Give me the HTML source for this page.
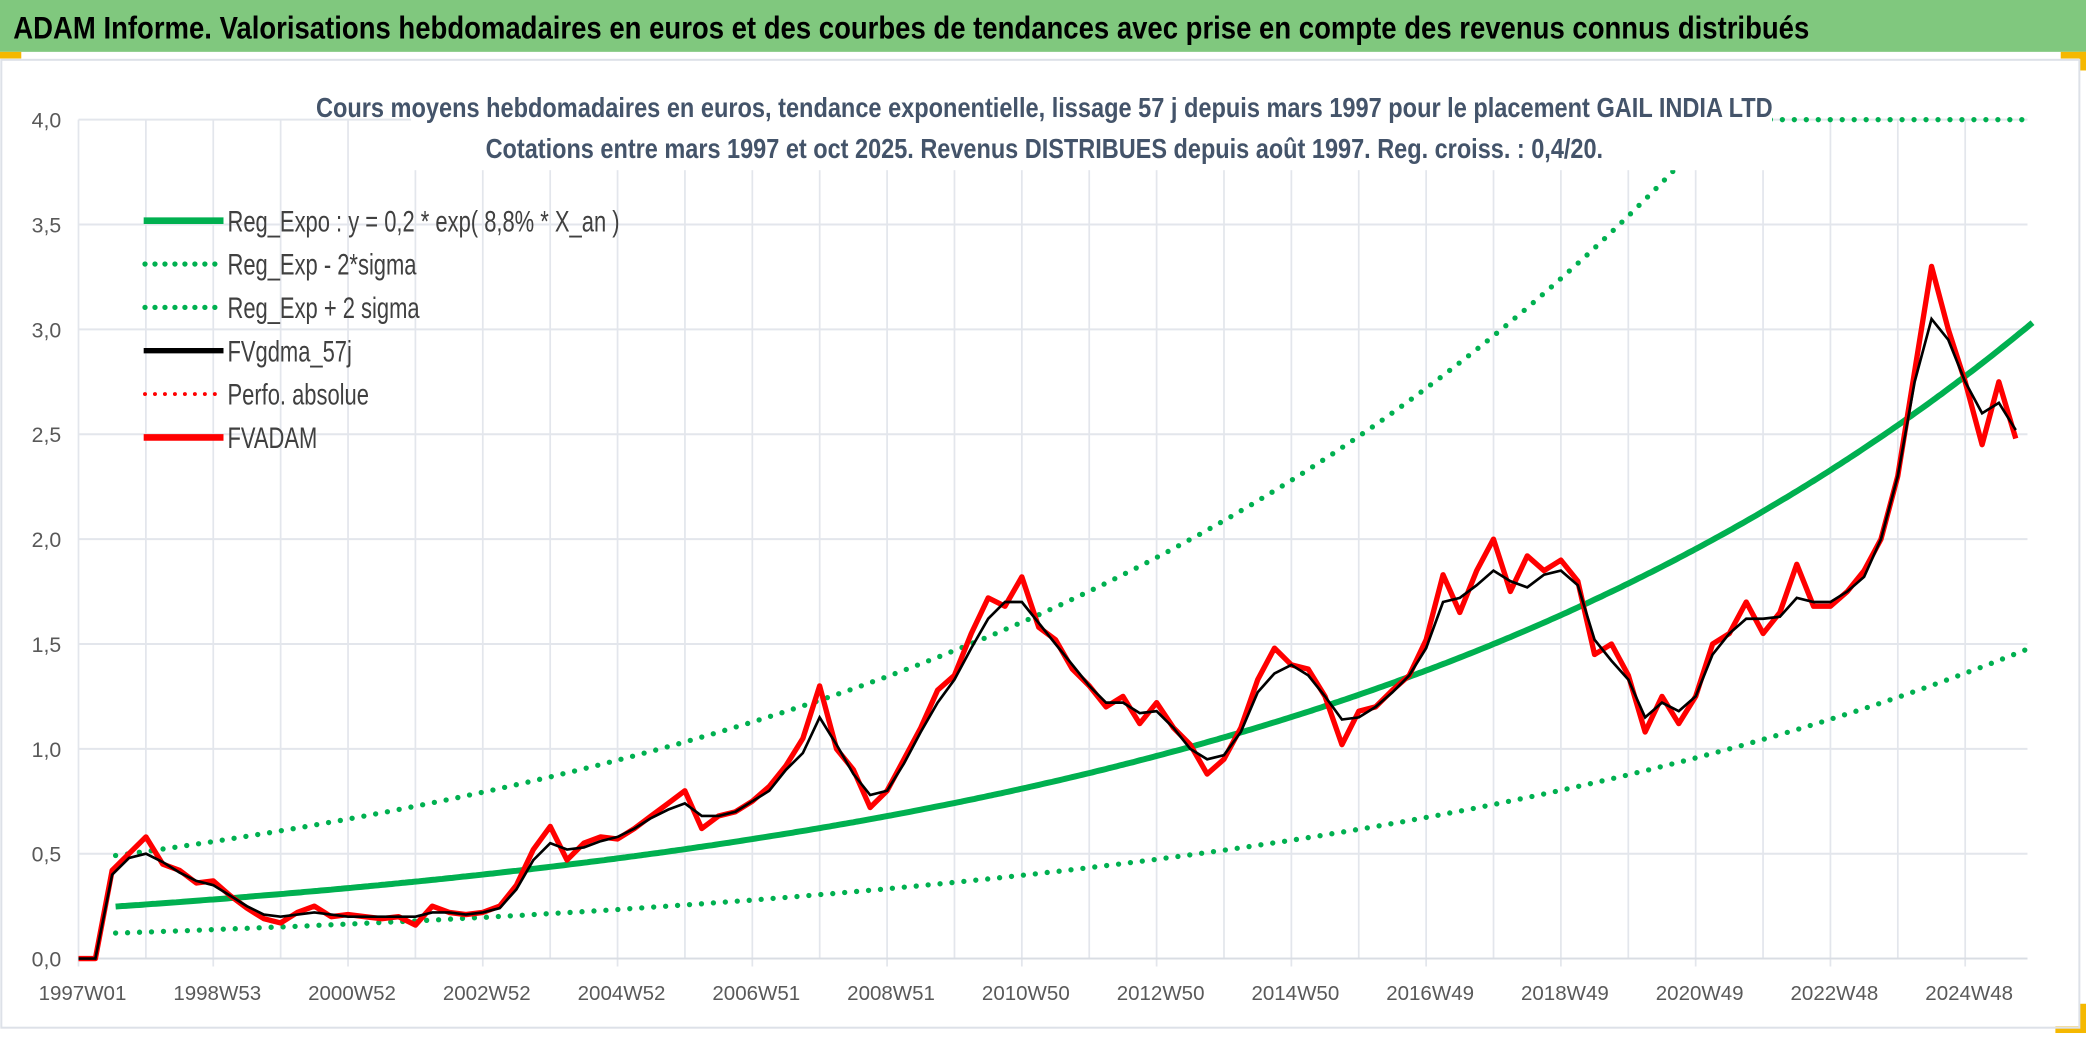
<!DOCTYPE html>
<html><head><meta charset="utf-8"><style>
html,body{margin:0;padding:0;background:#fff;}
svg{display:block;}
text{font-family:"Liberation Sans",sans-serif;}
</style></head><body>
<svg id="chart" width="2086" height="1037" viewBox="0 0 1568 780" preserveAspectRatio="none" xmlns="http://www.w3.org/2000/svg">
<rect x="0" y="0" width="1568" height="780" fill="#fff"/>
<rect x="0" y="0" width="1568" height="39" fill="#80c87e"/>
<text x="10" y="29" font-size="24" font-weight="bold" fill="#000" textLength="1350" lengthAdjust="spacingAndGlyphs">ADAM Informe. Valorisations hebdomadaires en euros et des courbes de tendances avec prise en compte des revenus connus distribués</text>
<rect x="0" y="39" width="16" height="5" fill="#f5b800"/>
<rect x="1549" y="39" width="19" height="5" fill="#f5b800"/>
<rect x="1563" y="39" width="5" height="14" fill="#f5b800"/>
<rect x="1563" y="755" width="5" height="22" fill="#f5b800"/>
<rect x="1545" y="772" width="23" height="5" fill="#f5b800"/>
<rect x="1" y="45" width="1562" height="728" fill="none" stroke="#dde1e8" stroke-width="1.5"/>
<g id="grid"></g>
<g id="series"></g>
<rect x="309" y="60" width="1023" height="68" fill="#fff"/>
<text x="785" y="88" font-size="21" font-weight="bold" fill="#44546a" text-anchor="middle" textLength="1095" lengthAdjust="spacingAndGlyphs">Cours moyens hebdomadaires en euros, tendance exponentielle, lissage 57 j depuis mars 1997 pour le placement GAIL INDIA LTD</text>
<text x="785" y="119" font-size="21" font-weight="bold" fill="#44546a" text-anchor="middle" textLength="840" lengthAdjust="spacingAndGlyphs">Cotations entre mars 1997 et oct 2025. Revenus DISTRIBUES depuis août 1997. Reg. croiss. : 0,4/20.</text>
<g id="legend"></g>
</svg>
<script>
const NS='http://www.w3.org/2000/svg';
// ---- data ----
const yTicks=[0,0.5,1,1.5,2,2.5,3,3.5,4];
const yTickLabels=['0,0','0,5','1,0','1,5','2,0','2,5','3,0','3,5','4,0'];
const xTickLabels=['1997W01','1998W53','2000W52','2002W52','2004W52','2006W51','2008W51','2010W50','2012W50','2014W50','2016W49','2018W49','2020W49','2022W48','2024W48'];
const startYear=1997;
const stepYears=0.25;
const fvadam=[0,0,0.42,0.5, 0.58,0.45,0.42,0.36, 0.37,0.3,0.24,0.19, 0.17,0.22,0.25,0.2, 0.21,0.2,0.19,0.2,
 0.16,0.25,0.22,0.21, 0.22,0.25,0.35,0.52, 0.63,0.47,0.55,0.58, 0.57,0.62,0.68,0.74, 0.8,0.62,0.68,0.7,
 0.75,0.82,0.92,1.05, 1.3,1.0,0.9,0.72, 0.8,0.95,1.1,1.28, 1.35,1.55,1.72,1.68, 1.82,1.58,1.52,1.38,
 1.3,1.2,1.25,1.12, 1.22,1.1,1.02,0.88, 0.95,1.1,1.33,1.48, 1.4,1.38,1.25,1.02, 1.18,1.2,1.28,1.35,
 1.52,1.83,1.65,1.85, 2.0,1.75,1.92,1.85, 1.9,1.8,1.45,1.5, 1.35,1.08,1.25,1.12, 1.25,1.5,1.55,1.7,
 1.55,1.65,1.88,1.68, 1.68,1.75,1.85,2.0, 2.3,2.8,3.3,3.0, 2.75,2.45,2.75,2.48];
const fvgdma=[0,0,0.4,0.48, 0.5,0.46,0.41,0.37, 0.35,0.3,0.25,0.21, 0.2,0.21,0.22,0.21, 0.2,0.2,0.2,0.2,
 0.2,0.22,0.22,0.21, 0.22,0.24,0.33,0.47, 0.55,0.52,0.53,0.56, 0.58,0.62,0.67,0.71, 0.74,0.68,0.68,0.7,
 0.75,0.8,0.9,0.98, 1.15,1.02,0.88,0.78, 0.8,0.93,1.08,1.22, 1.33,1.48,1.62,1.7, 1.7,1.6,1.5,1.4,
 1.3,1.22,1.22,1.17, 1.18,1.1,1.0,0.95, 0.97,1.08,1.27,1.36, 1.4,1.35,1.25,1.14, 1.15,1.2,1.27,1.35,
 1.48,1.7,1.72,1.78, 1.85,1.8,1.77,1.83, 1.85,1.78,1.52,1.42, 1.33,1.15,1.22,1.18, 1.25,1.45,1.55,1.62,
 1.62,1.63,1.72,1.7, 1.7,1.75,1.82,2.0, 2.3,2.75,3.05,2.95, 2.75,2.6,2.65,2.52];
const regStart=[1997.55];
const regEnd=[2026];
const regA=[0.248];
const regRate=[0.088];
const sigmaFactors=[0.49,1.98];
// ---- axes ----
const X0=59,X1=1524,Y0=721,YT=90;
function xs(t){return X0+(t-startYear)*50.65;}
function ys(v){return Y0-v*(Y0-YT)/4;}
const grid=document.getElementById('grid');
function mk(tag,attrs,parent){const e=document.createElementNS(NS,tag);for(const k in attrs)e.setAttribute(k,attrs[k]);parent.appendChild(e);return e;}
for(let i=0;i<=29;i++){const x=X0+i*50.65;if(x>X1+1)break;
 const l=mk('line',{x1:x,x2:x,y1:YT,y2:Y0+(i%2===0?6:0),stroke:'#e3e6ec','stroke-width':1.3},grid);
 
 }
yTicks.forEach((v,i)=>{
 const l=mk('line',{x1:X0,x2:X1,y1:ys(v),y2:ys(v),stroke:'#e3e6ec','stroke-width':1.5},grid);
 
 
 const t=mk('text',{x:46,y:ys(v)+6,'font-size':16,fill:'#595959','text-anchor':'end'},grid);
 
 
 t.textContent=yTickLabels[i];});
xTickLabels.forEach((s,i)=>{
 const t=mk('text',{x:X0+3+i*101.3,y:752,'font-size':15,fill:'#595959','text-anchor':'middle',textLength:66,lengthAdjust:'spacingAndGlyphs'},grid);
 
 
 t.textContent=s;});
mk('line',{x1:X0,x2:X1,y1:Y0,y2:Y0,stroke:'#d9dde3','stroke-width':1.5},grid);
// ---- series ----
const ser=document.getElementById('series');
function trend(t,f){return Math.min(4,regA[0]*f*Math.exp(regRate[0]*(t-regStart[0])));}
function trendPath(f){let d='';for(let t=regStart[0];t<=regEnd[0]+1e-9;t+=0.05){d+=(d?'L':'M')+xs(t).toFixed(1)+','+ys(trend(t,f)).toFixed(1);}return d;}
const lo=mk('path',{d:trendPath(sigmaFactors[0]),fill:'none',stroke:'#00b050','stroke-width':4,'stroke-dasharray':'0 9','stroke-linecap':'round'},ser);


const hi=mk('path',{d:trendPath(sigmaFactors[1]),fill:'none',stroke:'#00b050','stroke-width':4,'stroke-dasharray':'0 9','stroke-linecap':'round'},ser);


const rg=mk('path',{d:trendPath(1),fill:'none',stroke:'#00b050','stroke-width':4.5},ser);


function seriesPath(arr){return arr.map((v,i)=>(i?'L':'M')+xs(startYear+i*stepYears).toFixed(1)+','+ys(v).toFixed(1)).join('');}
const red=mk('path',{d:seriesPath(fvadam),fill:'none',stroke:'#ff0000','stroke-width':4,'stroke-linejoin':'round'},ser);


const blk=mk('path',{d:seriesPath(fvgdma),fill:'none',stroke:'#000','stroke-width':2},ser);


// ---- legend ----
const lg=document.getElementById('legend');
const legItems=[['Reg_Expo : y = 0,2 * exp( 8,8% *  X_an )','#00b050','solid',5],['Reg_Exp - 2*sigma','#00b050','dot',4],['Reg_Exp + 2 sigma','#00b050','dot',4],['FVgdma_57j','#000','solid',4],['Perfo. absolue','#ff0000','dot',3],['FVADAM','#ff0000','solid',5]];
legItems.forEach((it,i)=>{const y=166+i*32.6;
 const l=mk('line',{x1:108,x2:168,y1:y,y2:y,stroke:it[1],'stroke-width':it[3]},lg);
 if(it[2]==='dot'){l.setAttribute('stroke-dasharray','0 7.5');l.setAttribute('stroke-linecap','round');l.setAttribute('x1',109);}
 
 
 const t=mk('text',{x:171,y:y+8,'font-size':22,fill:'#404040'},lg);
 
 
 t.setAttribute('transform','translate(171 0) scale(0.75 1) translate(-171 0)');
 t.textContent=it[0];});
</script>
</body></html>
